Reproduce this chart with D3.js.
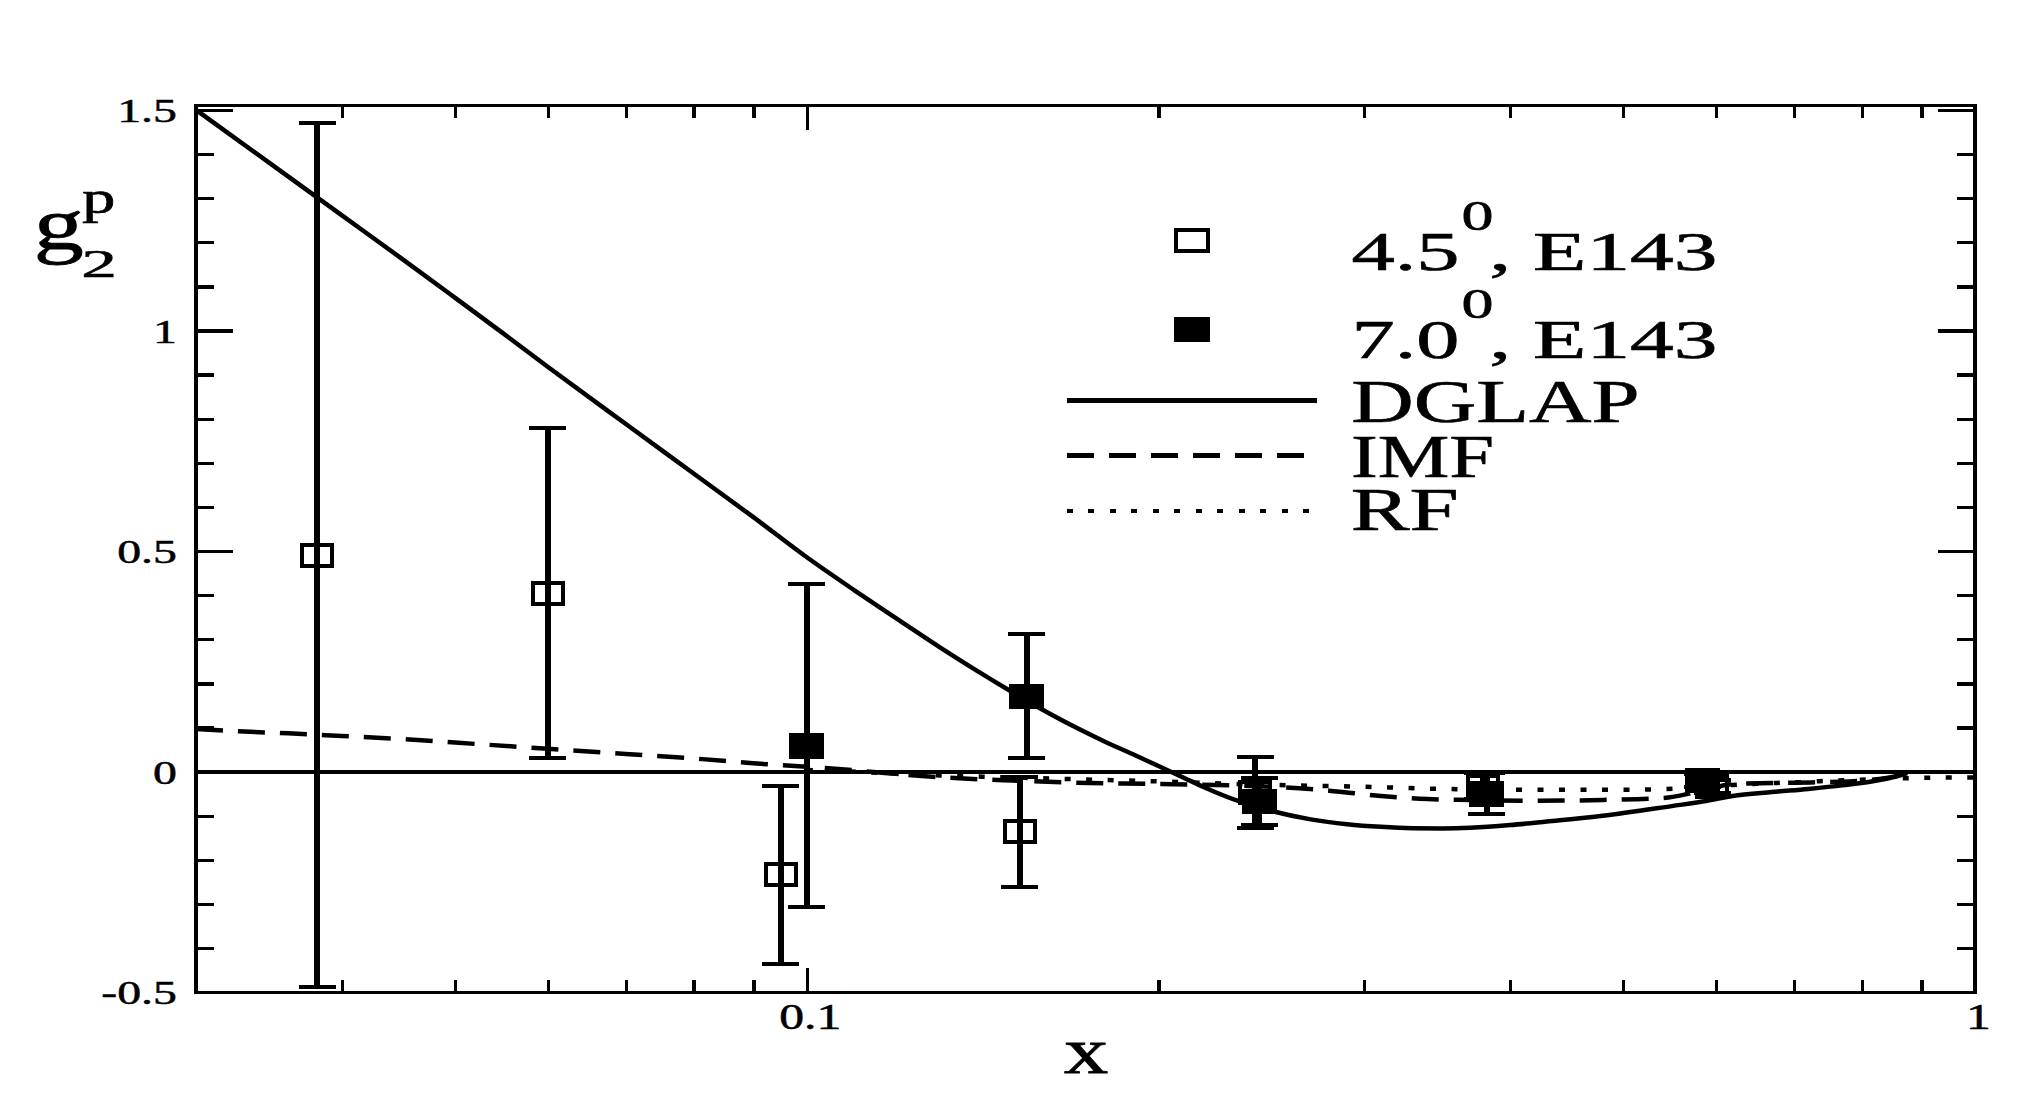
<!DOCTYPE html>
<html><head><meta charset="utf-8">
<script src="https://cdn.jsdelivr.net/npm/d3@7"></script>
<style>html,body{margin:0;padding:0;background:#fff;} svg{display:block;}</style>
</head><body>
<svg id="chart" width="2032" height="1102"></svg>
<script>
// ---------- data ----------
const xMajorTicks = [0.1, 1];
const xTickLabels = ["0.1", "1"];
const xMinorTicks = [0.04,0.05,0.06,0.07,0.08,0.09,0.2,0.3,0.4,0.5,0.6,0.7,0.8,0.9];
const yMajorTicks = [-0.5, 0, 0.5, 1, 1.5];
const yTickLabels = ["-0.5", "0", "0.5", "1", "1.5"];
const yMinorTicks = [-0.4,-0.3,-0.2,-0.1,0.1,0.2,0.3,0.4,0.6,0.7,0.8,0.9,1.1,1.2,1.3,1.4];

// E143, 4.5 deg (open squares)
const openX   = [0.0381, 0.0600, 0.0950, 0.1522, 0.242, 0.379, 0.596];
const openY   = [0.491, 0.405, -0.234, -0.136, -0.047, -0.033, -0.034];
const openErr = [0.980, 0.373, 0.202, 0.125, 0.080, 0.030, 0.015];

// E143, 7.0 deg (filled squares)
const filledX   = [0.100, 0.1543, 0.244, 0.382, 0.585];
const filledY   = [0.0585, 0.171, -0.068, -0.050, -0.020];
const filledErr = [0.366, 0.1405, 0.053, 0.047, 0.015];

// DGLAP (solid)
const dglapX = [0.030,0.035,0.040,0.045,0.050,0.055,0.060,0.070,0.080,0.090,0.100,0.110,0.120,0.130,0.140,0.150,0.160,0.170,0.180,0.190,0.200,0.210,0.220,0.235,0.250,0.270,0.290,0.310,0.330,0.350,0.370,0.400,0.430,0.480,0.550,0.590,0.620,0.670,0.720,0.770,0.820,0.850,0.875];
const dglapY = [1.500,1.372,1.261,1.163,1.074,0.993,0.918,0.788,0.676,0.577,0.486,0.410,0.343,0.282,0.228,0.180,0.137,0.100,0.068,0.040,0.013,-0.013,-0.038,-0.068,-0.089,-0.108,-0.119,-0.125,-0.128,-0.1285,-0.127,-0.121,-0.113,-0.100,-0.078,-0.066,-0.055,-0.046,-0.039,-0.031,-0.021,-0.013,-0.003];

// IMF (dashed)
const imfX = [0.03,0.033,0.036,0.04,0.045,0.05,0.06,0.07,0.08,0.09,0.1,0.11,0.12,0.135,0.15,0.17,0.2,0.25,0.28,0.31,0.34,0.37,0.42,0.48,0.54,0.58,0.62,0.7,0.78,0.84,0.88];
const imfY = [0.097,0.091,0.087,0.081,0.074,0.066,0.052,0.040,0.030,0.019,0.011,0.003,-0.006,-0.015,-0.020,-0.025,-0.028,-0.034,-0.043,-0.055,-0.062,-0.064,-0.066,-0.064,-0.060,-0.045,-0.028,-0.025,-0.022,-0.014,-0.002];

// RF (dotted)
const rfX = [0.1,0.11,0.12,0.14,0.17,0.2,0.25,0.3,0.35,0.42,0.5,0.56,0.62,0.7,0.8,0.9,1.0];
const rfY = [0.004,0.0,-0.005,-0.011,-0.017,-0.022,-0.030,-0.034,-0.039,-0.041,-0.041,-0.038,-0.030,-0.024,-0.018,-0.014,-0.013];

const legendNames = ["DGLAP", "IMF", "RF"];
const legendData = ["4.5", "7.0"];

// ---------- drawing ----------
const svg = d3.select("#chart");
const FONT = "'Liberation Serif','Times New Roman',Times,serif";
const P = {left:196, right:1975, top:105.5, bottom:992.3};
const x = d3.scaleLog().domain([0.03, 1]).range([P.left, P.right]);
const y = d3.scaleLinear().domain([-0.5, 1.51]).range([P.bottom, P.top]);

svg.append("rect").attr("width",2032).attr("height",1102).attr("fill","#fff");

svg.append("clipPath").attr("id","pc").append("rect")
  .attr("x",P.left).attr("y",P.top-2).attr("width",P.right-P.left).attr("height",P.bottom-P.top+4);

const marks = svg.append("g").attr("shape-rendering","crispEdges");

// zero line
marks.append("line").attr("x1",x(0.03)).attr("x2",x(1)).attr("y1",y(0)).attr("y2",y(0))
  .attr("stroke","#000").attr("stroke-width",4);

const lineGen = d3.line().x(d=>x(d[0])).y(d=>y(d[1])).curve(d3.curveMonotoneX);
const curves = svg.append("g").attr("clip-path","url(#pc)");
curves.append("path").datum(d3.zip(dglapX,dglapY)).attr("d",lineGen)
  .attr("fill","none").attr("stroke","#000").attr("stroke-width",4.5);
curves.append("path").datum(d3.zip(imfX,imfY)).attr("d",lineGen)
  .attr("fill","none").attr("stroke","#000").attr("stroke-width",4.5).attr("stroke-dasharray","27,15");
curves.append("path").datum(d3.zip(rfX,rfY)).attr("d",lineGen)
  .attr("fill","none").attr("stroke","#000").attr("stroke-width",4.5).attr("stroke-dasharray","6,15.5");

// error bars
function errBars(xs, ys, es){
  const g = marks.append("g");
  xs.forEach((xv,i)=>{
    const cx = x(xv), top = y(ys[i]+es[i]), bot = y(ys[i]-es[i]);
    g.append("line").attr("x1",cx).attr("x2",cx).attr("y1",top).attr("y2",bot)
      .attr("stroke","#000").attr("stroke-width",6);
    [top, bot].forEach(yy=>{
      g.append("line").attr("x1",cx-18.5).attr("x2",cx+18.5).attr("y1",yy).attr("y2",yy)
        .attr("stroke","#000").attr("stroke-width",4);
    });
  });
}
errBars(openX, openY, openErr);
errBars(filledX, filledY, filledErr);

// symbols
marks.append("g").selectAll("rect").data(d3.zip(openX,openY)).join("rect")
  .attr("x",d=>x(d[0])-15).attr("y",d=>y(d[1])-10.5).attr("width",30).attr("height",21)
  .attr("fill","none").attr("stroke","#000").attr("stroke-width",4);
marks.append("g").selectAll("rect").data(d3.zip(filledX,filledY)).join("rect")
  .attr("x",d=>x(d[0])-17.5).attr("y",d=>y(d[1])-12.75).attr("width",35).attr("height",25.5)
  .attr("fill","#000");

// axes
function styleAxis(g){
  g.select(".domain").remove();
  g.selectAll(".tick line").attr("stroke","#000").attr("stroke-width",3.3).attr("shape-rendering","crispEdges");
}
const noLab = () => "";
svg.append("g").attr("transform",`translate(0,${P.bottom})`)
  .call(d3.axisBottom(x).tickValues(xMinorTicks).tickSize(-12).tickSizeOuter(0).tickFormat(noLab)).call(styleAxis);
const gxb = svg.append("g").attr("transform",`translate(0,${P.bottom})`)
  .call(d3.axisBottom(x).tickValues(xMajorTicks).tickSize(-24).tickSizeOuter(0).tickFormat((d,i)=>xTickLabels[i])).call(styleAxis);
gxb.selectAll(".tick text").attr("y",null).attr("dy",null)
  .attr("transform","translate(3,37) scale(1.42,1)")
  .attr("font-family",FONT).attr("font-size",35).attr("fill","#000")
  .attr("stroke","#000").attr("stroke-width",0.5).attr("text-anchor","middle");
svg.append("g").attr("transform",`translate(0,${P.top})`)
  .call(d3.axisTop(x).tickValues(xMinorTicks).tickSize(-12).tickSizeOuter(0).tickFormat(noLab)).call(styleAxis);
svg.append("g").attr("transform",`translate(0,${P.top})`)
  .call(d3.axisTop(x).tickValues(xMajorTicks).tickSize(-24).tickSizeOuter(0).tickFormat(noLab)).call(styleAxis);

svg.append("g").attr("transform",`translate(${P.left},0)`)
  .call(d3.axisLeft(y).tickValues(yMinorTicks).tickSize(-18).tickSizeOuter(0).tickFormat(noLab)).call(styleAxis);
const gyl = svg.append("g").attr("transform",`translate(${P.left},0)`)
  .call(d3.axisLeft(y).tickValues(yMajorTicks).tickSize(-36.7).tickSizeOuter(0).tickFormat((d,i)=>yTickLabels[i])).call(styleAxis);
gyl.selectAll(".tick text").attr("x",null).attr("dy",null)
  .attr("transform","translate(-19,11.5) scale(1.45,1)")
  .attr("font-family",FONT).attr("font-size",33).attr("fill","#000")
  .attr("stroke","#000").attr("stroke-width",0.5).attr("text-anchor","end");
svg.append("g").attr("transform",`translate(${P.right},0)`)
  .call(d3.axisRight(y).tickValues(yMinorTicks).tickSize(-18).tickSizeOuter(0).tickFormat(noLab)).call(styleAxis);
svg.append("g").attr("transform",`translate(${P.right},0)`)
  .call(d3.axisRight(y).tickValues(yMajorTicks).tickSize(-36.7).tickSizeOuter(0).tickFormat(noLab)).call(styleAxis);

// frame
svg.append("rect").attr("x",P.left).attr("y",P.top).attr("width",P.right-P.left).attr("height",P.bottom-P.top)
  .attr("fill","none").attr("stroke","#000").attr("stroke-width",3.3).attr("shape-rendering","crispEdges");

// text helper
function txt(str, x0, base, size, len){
  return svg.append("text").attr("x",x0).attr("y",base).attr("font-family",FONT)
    .attr("font-size",size).attr("fill","#000").attr("stroke","#000").attr("stroke-width",0.6)
    .attr("textLength",len).attr("lengthAdjust","spacingAndGlyphs").text(str);
}

// axis titles
svg.append("text").attr("transform","translate(1086,1072.7) scale(1.36,1)")
  .attr("text-anchor","middle").attr("font-family",FONT).attr("font-size",65)
  .attr("fill","#000").attr("stroke","#000").attr("stroke-width",0.8).text("x");
txt("g", 33.7, 249, 74, 50).attr("stroke-width",0.8);
txt("2", 81.2, 276.7, 40, 35.7);
txt("p", 82, 213, 46, 33.4);

// legend
const legX0 = 1066.8, legX1 = 1316.8;
const symRows = [240.5, 329.2];
marks.append("rect").attr("x",1191.8-15.85).attr("y",symRows[0]-10.15).attr("width",31.7).attr("height",20.3)
  .attr("fill","none").attr("stroke","#000").attr("stroke-width",4);
marks.append("rect").attr("x",1191.8-17.85).attr("y",symRows[1]-12.5).attr("width",35.7).attr("height",25)
  .attr("fill","#000");
const dataBase = [270, 358.3];
legendData.forEach((lab,i)=>{
  txt(lab, 1351.5, dataBase[i], 55, 108);
  txt("0", 1461.5, dataBase[i]-40, 42, 32);
  txt(", E143", 1489.3, dataBase[i], 55, 228.2);
});
const lineRows = [400.7, 455.7, 511];
const dashes = [null, "27,15", "6,15.5"];
lineRows.forEach((ly,i)=>{
  const l = marks.append("line").attr("x1",legX0).attr("x2",legX1).attr("y1",ly).attr("y2",ly)
    .attr("stroke","#000").attr("stroke-width",4.5);
  if (dashes[i]) l.attr("stroke-dasharray",dashes[i]);
});
txt(legendNames[0], 1351.2, 421.7, 62, 288.5);
txt(legendNames[1], 1350.9, 476.7, 62, 143.2);
txt(legendNames[2], 1350.7, 530, 62, 108);
</script>
</body></html>
